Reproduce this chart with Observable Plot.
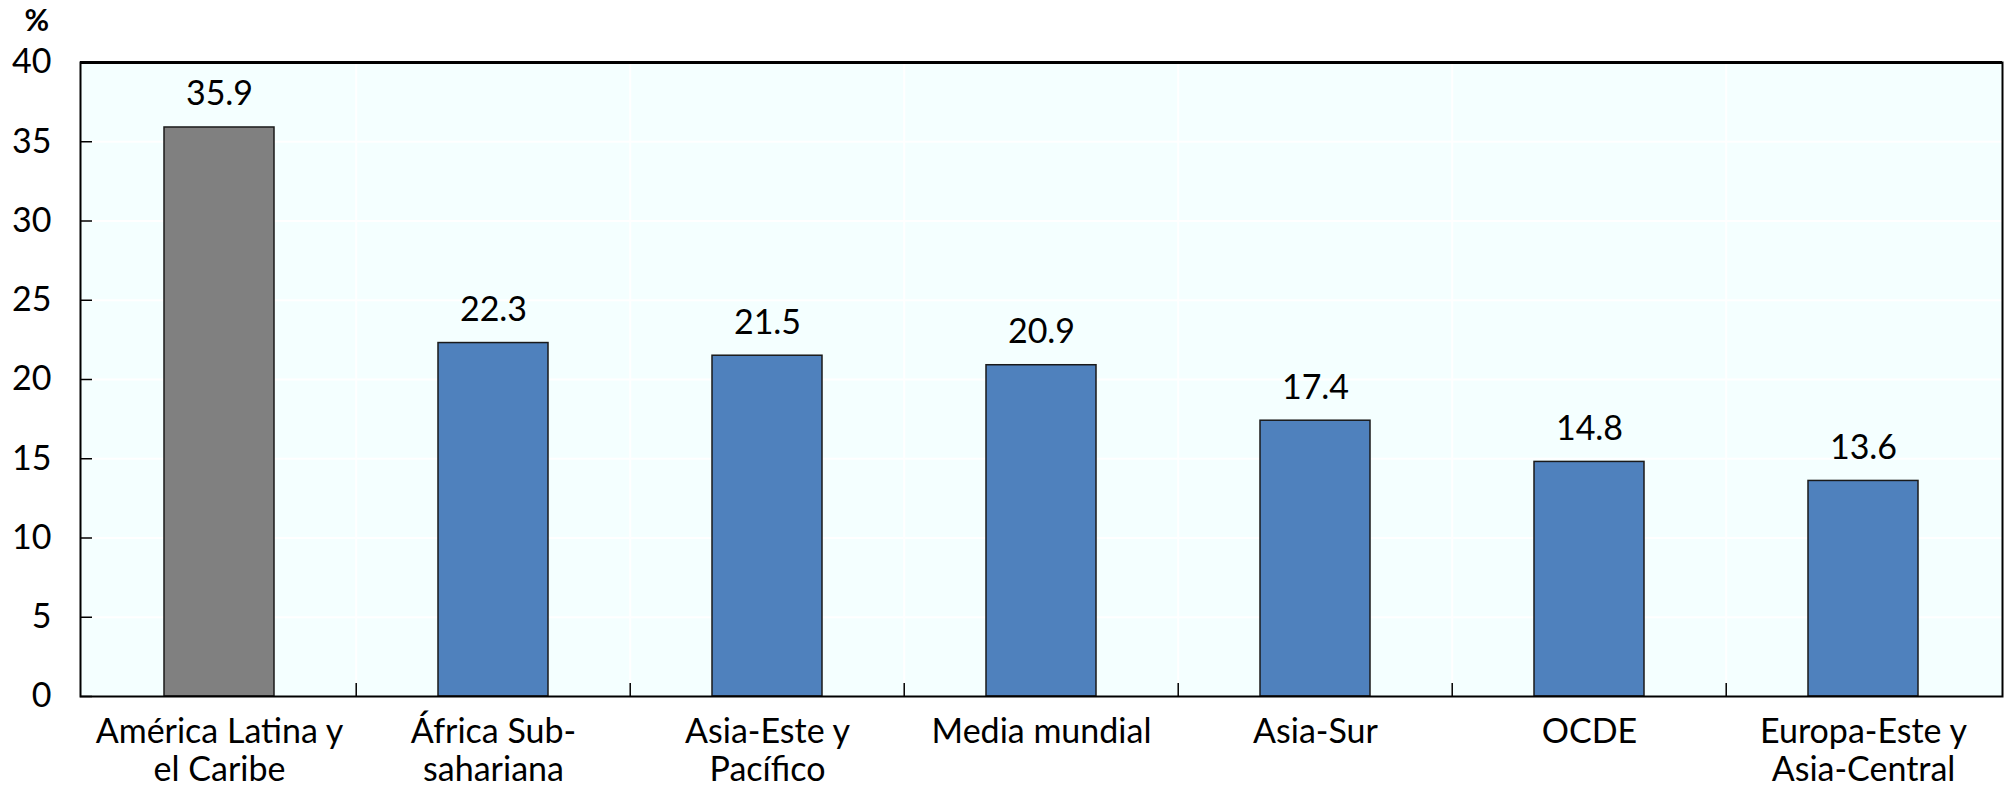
<!DOCTYPE html>
<html>
<head>
<meta charset="utf-8">
<script src="https://cdn.jsdelivr.net/npm/d3@7"></script>
<script src="https://cdn.jsdelivr.net/npm/@observablehq/plot@0.6"></script>
<style>
  html, body { margin: 0; padding: 0; background: #ffffff; }
  #chart svg { display: block; }
</style>
</head>
<body>
<div id="chart"></div>
<script>
const categories = ["América Latina y el Caribe", "África Sub-sahariana", "Asia-Este y Pacífico", "Media mundial", "Asia-Sur", "OCDE", "Europa-Este y Asia-Central"];
const tickLabels = ["América Latina y\nel Caribe", "África Sub-\nsahariana", "Asia-Este y\nPacífico", "Media mundial", "Asia-Sur", "OCDE", "Europa-Este y\nAsia-Central"];
const values = [35.9, 22.3, 21.5, 20.9, 17.4, 14.8, 13.6];
const barColors = ["#808080", "#4f81bd", "#4f81bd", "#4f81bd", "#4f81bd", "#4f81bd", "#4f81bd"];
const yTicks = [0, 5, 10, 15, 20, 25, 30, 35, 40];
const yUnit = "%";

const data = categories.map((c, i) => ({category: c, value: values[i], color: barColors[i], label: tickLabels[i]}));

const W = 2005, H = 792;
const mL = 80, mR = 3, mT = 62, mB = 96;
const step = (W - mL - mR) / categories.length;
const font = "Lato, 'Open Sans', sans-serif";
const fs = 34;

const chart = Plot.plot({
  width: W,
  height: H,
  marginLeft: mL,
  marginRight: mR,
  marginTop: mT,
  marginBottom: mB,
  style: {fontFamily: font, fontSize: fs + "px", color: "#000", background: "#ffffff"},
  x: {type: "band", domain: categories, paddingInner: 0.6, paddingOuter: 0.3, axis: null, label: null},
  y: {domain: [0, 40], axis: null, label: null},
  marks: [
    Plot.frame({fill: "#f4ffff", stroke: null}),
    Plot.ruleY(yTicks.slice(1, -1), {stroke: "#ffffff", strokeWidth: 2}),
    Plot.ruleX(categories.slice(1), {x: d => d, dx: -step / 2, stroke: "#ffffff", strokeWidth: 2}),
    Plot.barY(data, {x: "category", y: "value", fill: "color", stroke: "#1a1a1a", strokeWidth: 1.5}),
    Plot.text(data, {x: "category", y: "value", text: d => d.value.toFixed(1), lineAnchor: "bottom", dy: -22, fontSize: fs, fill: "#000"}),
    Plot.axisY({ticks: yTicks, text: null, label: null, tickSize: 12, dx: 12, stroke: "#000", strokeWidth: 1.5}),
    Plot.axisY({ticks: yTicks, label: null, tickSize: 0, tickPadding: 29, fontSize: fs, fill: "#000"}),
    Plot.axisX({ticks: categories.slice(1), text: null, label: null, tickSize: 13, dy: -13, dx: -step / 2, stroke: "#000", strokeWidth: 1.5}),
    Plot.axisX({ticks: categories, label: null, tickSize: 0, tickPadding: 19, tickFormat: d => tickLabels[categories.indexOf(d)], lineHeight: 1.12, fontSize: fs, fill: "#000"}),
    Plot.frame({stroke: "#000", strokeWidth: 2}),
    Plot.ruleY([40], {stroke: "#000", strokeWidth: 3}),
    Plot.text([yUnit], {frameAnchor: "top-left", text: d => d, dx: -56, dy: -53, textAnchor: "start", lineAnchor: "top", fontSize: 30, fontWeight: "bold", fill: "#000"})
  ]
});

document.getElementById("chart").appendChild(chart);
</script>
</body>
</html>
